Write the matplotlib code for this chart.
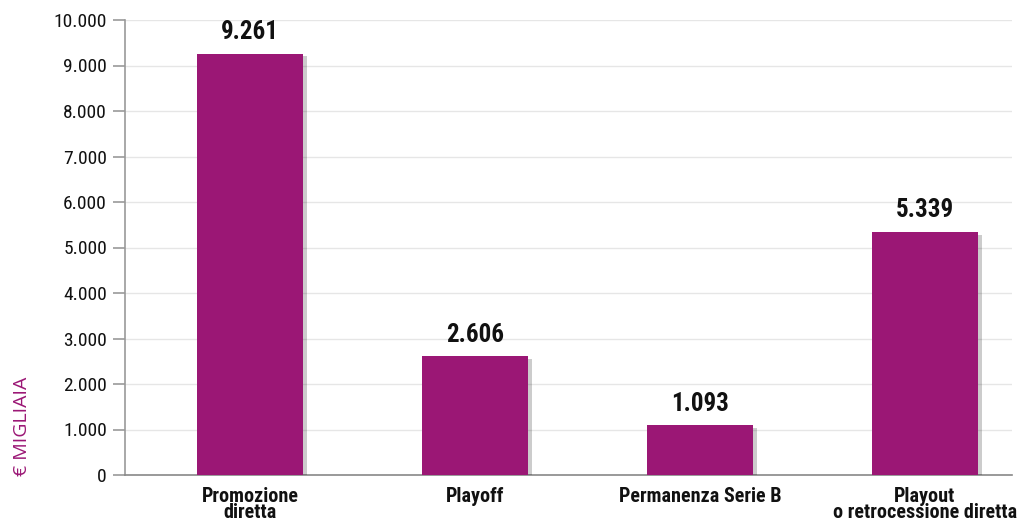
import matplotlib
matplotlib.use("Agg")
import matplotlib.pyplot as plt
import matplotlib.font_manager as fm
import matplotlib.patheffects as pe
import numpy as np

categories = ["Promozione\ndiretta", "Playoff", "Permanenza Serie B", "Playout\no retrocessione diretta"]
values = [9261, 2606, 1093, 5339]
value_labels = ["9.261", "2.606", "1.093", "5.339"]
yticks = [0, 1000, 2000, 3000, 4000, 5000, 6000, 7000, 8000, 9000, 10000]
ytick_labels = ["0", "1.000", "2.000", "3.000", "4.000", "5.000", "6.000", "7.000", "8.000", "9.000", "10.000"]

# pick a condensed font if available
cond = [f for f in fm.fontManager.ttflist if ("Narrow" in f.name or "Condensed" in f.name or
        (isinstance(f.stretch, str) and "condensed" in f.stretch) or (isinstance(f.stretch, int) and f.stretch < 500))]
FONT = ["DejaVu Sans"]
STRETCH = "normal"
for pref in ["Liberation Sans Narrow", "Roboto Condensed", "Open Sans Condensed", "DejaVu Sans Condensed"]:
    if any(f.name == pref for f in cond):
        FONT = [pref, "DejaVu Sans"]
        break
else:
    for f in cond:
        FONT = [f.name, "DejaVu Sans"]
        STRETCH = "condensed"
        break

PURPLE = "#9b1775"

fig = plt.figure(figsize=(10.19, 5.24), dpi=100)
ax = fig.add_axes([125/1019, 1-475/524, (1012-125)/1019, (475-20)/524])

x = np.arange(len(categories))
bars = ax.bar(x, values, width=0.47, color=PURPLE, zorder=3)
for b in bars:
    b.set_path_effects([pe.SimplePatchShadow(offset=(3, -2), shadow_rgbFace="#000000", alpha=0.2), pe.Normal()])

for xi, v, lab in zip(x, values, value_labels):
    ax.annotate(lab, (xi, v), xytext=(0, 7), textcoords="offset points", ha="center", va="bottom",
                fontsize=18, fontweight="bold", family=FONT, stretch=STRETCH, color="#111111")

ax.set_xlim(-0.556, 3.387)
ax.set_ylim(0, 10000)
ax.set_yticks(yticks)
ax.set_yticklabels(ytick_labels, family=FONT, stretch=STRETCH, fontsize=14, color="#111111")
ax.set_xticks(x)
ax.set_xticklabels(categories, family=FONT, stretch=STRETCH, fontsize=14.5, fontweight="bold", color="#111111", linespacing=0.8, va="top")
ax.tick_params(axis="x", length=0, pad=9)
ax.tick_params(axis="y", length=9, width=1.2, color="#999999", pad=4, direction="out")

ax.grid(axis="y", color="#e6e6e6", linewidth=1, zorder=0)
for s in ["top", "right"]:
    ax.spines[s].set_visible(False)
ax.spines["left"].set_color("#999999")
ax.spines["left"].set_linewidth(1.2)
ax.spines["bottom"].set_color("#888888")
ax.spines["bottom"].set_linewidth(1.2)

fig.text(22/1019, 1-426/524, "€ MIGLIAIA", rotation=90, ha="center", va="center",
         fontsize=14, color=PURPLE, family=["Open Sans", "DejaVu Sans"], fontweight="normal")

fig.savefig("out.png", dpi=100)
